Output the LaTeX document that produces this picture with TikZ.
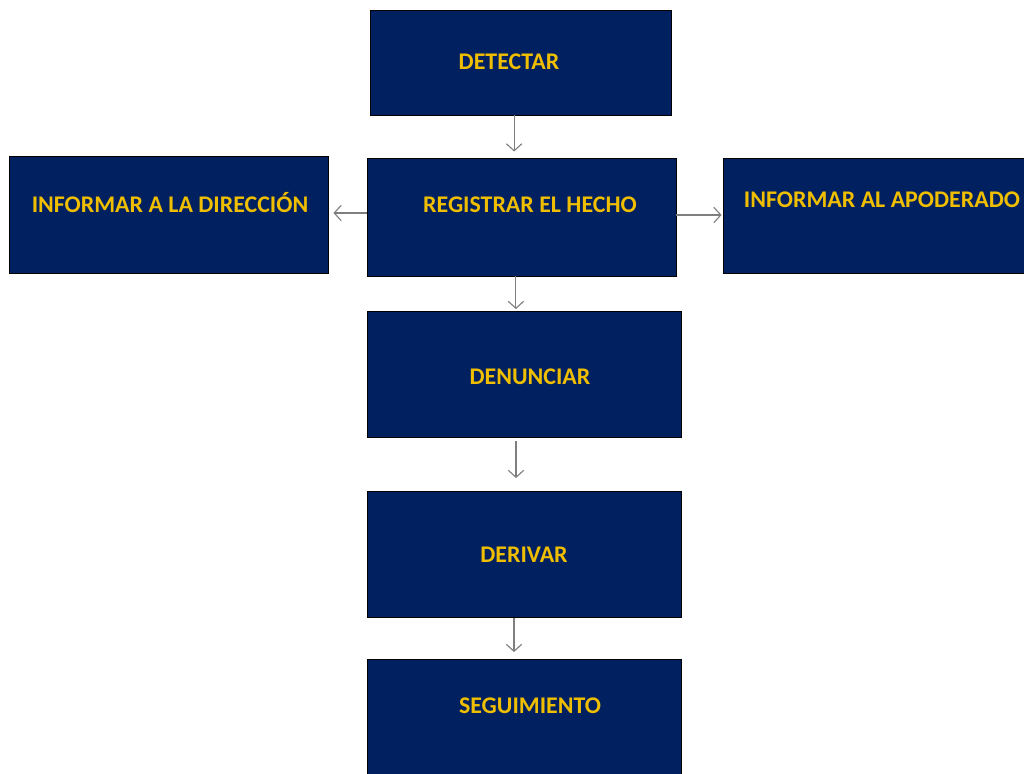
\documentclass[tikz,border=0pt]{standalone}
\usepackage{fontspec}
\setmainfont{Carlito}
\usetikzlibrary{arrows.meta}
\definecolor{navy}{HTML}{002060}
\definecolor{gold}{HTML}{F0BE00}
\definecolor{arrowgray}{HTML}{7F7F7F}

\begin{document}
\begin{tikzpicture}[x=0.025cm, y=-0.025cm, box node/.style={rectangle, draw=black, line width=.6pt, fill=navy, inner sep=0pt}, label node/.style={text=gold, font=\bfseries\fontsize{17}{20}\selectfont, inner sep=0pt}, flow arrow/.style={draw=arrowgray, line width=.8pt, -{Straight Barb[length=5pt, width=11pt]}}]
\useasboundingbox (0,0) rectangle (1024,774);
\clip (0,0) rectangle (1024,774);
\node[box node, minimum width=7.525cm, minimum height=2.625cm](det) at (520.5,62.5){};
\node[box node, minimum width=7.725cm, minimum height=2.95cm](reg) at (521.5,217){};
\node[box node, minimum width=7.975cm, minimum height=2.925cm](dir) at (168.5,214.5){};
\node[box node, minimum width=7.675cm, minimum height=2.875cm](apo) at (876.5,215.5){};
\foreach \s/\y in {den/374.5, der/554.5, seg/722.5}{
    \node[box node, minimum width=7.85cm, minimum height=3.15cm] (\s) at (524,\y) {};}
% textos
\node[label node](det text) at (509,62){DETECTAR};
\node[label node](reg text) at (530,205){REGISTRAR EL HECHO};
\node[label node](dir text) at (170,203){INFORMAR A LA DIRECCIÓN};
\node[label node](apo text) at (882,200){INFORMAR AL APODERADO};
\node[label node](den text) at (530,377){DENUNCIAR};
\node[label node](der text) at (524,555){DERIVAR};
\node[label node](seg text) at (530,706){SEGUIMIENTO};
% flechas
\draw[flow arrow, shorten >=6*0.025cm] ([xshift=-0.16cm]det.south) -- ([xshift=-0.16cm]det.south |- reg.north);
\draw[flow arrow, shorten >=2*0.025cm] ([xshift=-0.14cm]reg.south) -- ([xshift=-0.14cm]reg.south |- den.north);
\draw[flow arrow, shorten <=3*0.025cm, shorten >=13*0.025cm] ([xshift=-0.2cm]den.south) -- ([xshift=-0.2cm]den.south |- der.north);
\draw[flow arrow, shorten >=7*0.025cm] ([xshift=-0.25cm]der.south) -- ([xshift=-0.25cm]der.south |- seg.north);
\draw[flow arrow, shorten >=5*0.025cm] ([yshift=0.1cm]reg.west) -- ([yshift=0.1cm]reg.west -| dir.east);
\draw[flow arrow, shorten >=1*0.025cm] ([yshift=0.05cm]reg.east) -- ([yshift=0.05cm]reg.east -| apo.west);
\end{tikzpicture}
\end{document}
